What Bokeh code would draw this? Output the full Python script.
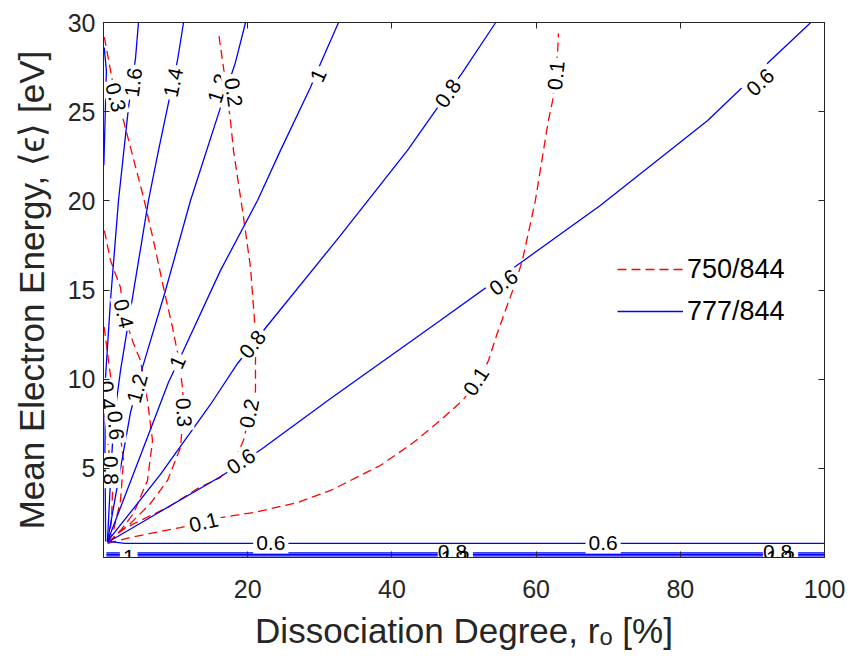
from bokeh.plotting import figure
from bokeh.models import (ColumnDataSource, FixedTicker, LinearAxis, Legend,
                          LegendItem, Range1d)
from bokeh.embed import file_html
from bokeh.resources import INLINE
from bokeh.core.properties import value

# ---------------- axes ----------------
x_ticks = [20, 40, 60, 80, 100]
y_ticks = [5, 10, 15, 20, 25, 30]

# ---------------- 777/844 contours (blue, solid) ----------------
b777_06_x = [0.55, 7.9, 16.5, 22.05, 31.5, 46.7, 58.1, 68.9, 83.8, 92.5, 98.1]
b777_06_y = [0.84, 2.58, 4.6, 6.11, 8.92, 13.29, 16.6, 19.74, 24.5, 27.87, 30.0]
b777_08_x = [0.55, 7.9, 14.84, 18.59, 22.75, 32.87, 42.16, 45.77, 49.8, 54.4]
b777_08_y = [0.9, 4.66, 8.58, 10.88, 13.01, 18.06, 22.83, 24.9, 27.2, 30.0]
b777_10_x = [0.55, 5.13, 9.0, 10.96, 16.23, 21.36, 24.55, 28.7, 30.1, 32.6]
b777_10_y = [0.9, 5.72, 9.81, 11.5, 16.1, 20.02, 22.83, 26.36, 27.7, 30.0]
b777_12_x = [0.55, 3.74, 5.41, 8.6, 12.07, 16.23, 18.3, 19.7]
b777_12_y = [0.9, 8.13, 10.66, 14.97, 20.02, 25.24, 27.76, 30.0]
b777_14_x = [0.55, 0.97, 1.39, 2.36, 4.3, 6.24, 7.63, 8.88, 10.26, 11.1]
b777_14_y = [0.9, 4.32, 7.52, 10.49, 15.26, 20.02, 22.83, 25.24, 27.87, 30.0]
b777_16_x = [0.3, 0.2, 0.28, 0.97, 2.08, 3.47, 4.44, 4.85]
b777_16_y = [0.9, 6.0, 10.1, 14.41, 20.02, 25.24, 27.99, 30.0]
b777_18_x = [0.05, 0.25, 0.4, 0.1]
b777_18_y = [22.0, 25.0, 27.3, 28.6]
# low-energy branches (nearly horizontal)
b777_06_low_x = [0.55, 3.0, 100.0]
b777_06_low_y = [0.9, 0.79, 0.79]
b777_08_low_x = [0.4, 100.0]
b777_08_low_y = [0.26, 0.26]
b777_10_low_x = [0.4, 100.0]
b777_10_low_y = [0.17, 0.17]
b777_12_low_x = [0.4, 100.0]
b777_12_low_y = [0.09, 0.09]

# ---------------- 750/844 contours (red, dashed) ----------------
r750_01_x = [0.55, 3.74, 6.52, 10.68, 16.23, 20.8, 26.9, 31.5, 38.4, 43.0, 46.7,
             49.8, 52.0, 53.4, 54.6, 56.9, 58.1, 59.9, 61.7, 62.3, 63.0, 63.1]
r750_01_y = [0.79, 1.12, 1.35, 1.68, 2.24, 2.52, 3.08, 3.76, 5.16, 6.45, 7.68,
             8.81, 9.9, 11.05, 12.56, 15.14, 16.66, 20.02, 24.5, 25.63, 28.44, 29.39]
r750_02_x = [0.69, 2.36, 5.13, 8.88, 13.04, 16.23, 18.3, 19.4, 20.8, 21.08, 21.08,
             20.39, 19.42, 18.03, 17.61, 16.64, 15.95]
r750_02_y = [0.79, 1.51, 2.08, 2.8, 3.87, 4.49, 5.55, 6.56, 8.81, 9.37, 12.56,
             16.26, 19.07, 22.83, 24.5, 27.48, 29.44]
r750_03_x = [0.69, 1.39, 3.74, 6.52, 8.88, 10.68, 11.1, 10.96, 10.4, 9.57, 8.32,
             6.93, 5.55, 2.77, 1.66, 0.97, 0.07]
r750_03_y = [0.84, 1.12, 1.91, 3.03, 4.32, 6.17, 8.24, 9.53, 11.22, 12.9, 15.14,
             17.78, 20.19, 24.51, 25.8, 27.31, 29.28]
r750_04_x = [0.69, 2.36, 4.16, 6.1, 6.8, 6.1, 5.13, 4.16, 2.77, 2.36, 0.97, 0.07]
r750_04_y = [0.84, 1.51, 2.47, 4.32, 6.56, 8.81, 11.05, 12.0, 13.68, 15.14, 16.66, 18.45]
r750_05_x = [0.69, 1.39, 2.36, 2.77, 2.08, 1.25, 0.69, 0.07]
r750_05_y = [0.84, 1.51, 3.2, 5.44, 7.68, 9.37, 11.05, 13.01]
r750_06_x = [0.69, 1.11, 1.25, 0.83, 0.07]
r750_06_y = [0.84, 2.08, 3.76, 5.72, 8.24]

# ---------------- contour labels ----------------
label_text = ["0.6", "0.6", "0.6", "0.8", "0.8", "1", "1", "1.2", "1.2", "1.4", "1.6",
              "0.6", "0.6", "1.2", "1.2", "1",
              "0.1", "0.1", "0.1", "0.2", "0.2", "0.3", "0.3", "0.4",
              "0.4", "0.6", "0.8"]
label_x = [91.1, 55.5, 19.1, 47.8, 20.7, 29.8, 10.3, 4.7, 15.95, 9.7, 4.16,
           23.2, 69.3, 48.8, 93.9, 3.5,
           13.9, 51.7, 62.8, 20.25, 18.0, 11.1, 1.66, 2.77,
           0.45, 1.66, 0.97]
label_y = [26.64, 15.42, 5.38, 26.02, 11.95, 27.03, 10.94, 9.48, 26.3, 26.64, 26.64,
           0.79, 0.79, -0.05, -0.05, 0.05,
           1.96, 9.87, 27.03, 8.08, 26.08, 8.13, 25.8, 13.68,
           9.09, 7.4, 4.88]
label_angle = [43, 36, 34, 55, 52, 66, 66, 75, 72, 78, 82,
               0, 0, 0, 0, 0,
               14, 57, 84, 78, -82, -87, -75, -77,
               -85, -85, -88]
# labels of the 0.8 low branch, drawn over the overlapping 1.2 labels
over_text = ["0.8", "0.8"]
over_x = [48.4, 93.5]
over_y = [0.3, 0.3]

TXT = "#262626"
FONT = "Liberation Sans"

p = figure(width=856, height=666, x_range=Range1d(0, 100), y_range=Range1d(0, 30),
           output_backend="svg", toolbar_location=None,
           min_border_left=103, min_border_right=32, min_border_top=22,
           min_border_bottom=109)
p.background_fill_color = "white"
p.border_fill_color = "white"
p.grid.visible = False
p.outline_line_color = TXT
p.outline_line_width = 1

for ax in (p.xaxis[0], p.yaxis[0]):
    ax.major_tick_in = 6
    ax.major_tick_out = 0
    ax.minor_tick_line_color = None
    ax.axis_line_color = TXT
    ax.major_tick_line_color = TXT
    ax.major_label_text_font = FONT
    ax.major_label_text_font_size = "25px"
    ax.major_label_text_color = TXT
    ax.axis_label_text_font = FONT
    ax.axis_label_text_font_size = "35px"
    ax.axis_label_text_font_style = "normal"
    ax.axis_label_text_color = TXT

p.xaxis.ticker = FixedTicker(ticks=x_ticks)
p.yaxis.ticker = FixedTicker(ticks=y_ticks)
p.xaxis.major_label_standoff = 22
p.yaxis.major_label_standoff = 8
p.xaxis.axis_label = "Dissociation Degree, r\u2092 [%]"
p.yaxis.axis_label = "Mean Electron Energy, \u27e8\u03f5\u27e9 [eV]"
p.xaxis.axis_label_standoff = 10
p.yaxis.axis_label_standoff = 14

top_ax = LinearAxis(ticker=FixedTicker(ticks=x_ticks), major_label_text_color=None,
                    major_label_text_font_size="10px",
                    major_tick_in=6, major_tick_out=0, minor_tick_line_color=None,
                    axis_line_color=TXT, major_tick_line_color=TXT, major_label_standoff=0)
right_ax = LinearAxis(ticker=FixedTicker(ticks=y_ticks), major_label_text_color=None,
                      major_label_text_font_size="10px",
                      major_tick_in=6, major_tick_out=0, minor_tick_line_color=None,
                      axis_line_color=TXT, major_tick_line_color=TXT, major_label_standoff=0)
p.add_layout(top_ax, "above")
p.add_layout(right_ax, "right")

BLUE = "#0000FF"
RED = "#FF0000"
LW = 1.3

blue_lines = [
    (b777_06_x, b777_06_y), (b777_08_x, b777_08_y), (b777_10_x, b777_10_y),
    (b777_12_x, b777_12_y), (b777_14_x, b777_14_y), (b777_16_x, b777_16_y),
    (b777_18_x, b777_18_y), (b777_06_low_x, b777_06_low_y),
    (b777_08_low_x, b777_08_low_y), (b777_10_low_x, b777_10_low_y),
    (b777_12_low_x, b777_12_low_y),
]
red_lines = [
    (r750_01_x, r750_01_y), (r750_02_x, r750_02_y), (r750_03_x, r750_03_y),
    (r750_04_x, r750_04_y), (r750_05_x, r750_05_y), (r750_06_x, r750_06_y),
]

red_r = []
for xs, ys in red_lines:
    red_r.append(p.line(xs, ys, line_color=RED, line_width=LW, line_dash="9 5"))
blue_r = []
for xs, ys in blue_lines:
    blue_r.append(p.line(xs, ys, line_color=BLUE, line_width=LW))

src = ColumnDataSource(dict(x=label_x, y=label_y, text=label_text, angle=label_angle))
p.text(x="x", y="y", text="text", angle="angle", angle_units="deg", source=src,
       text_font=value(FONT), text_font_size="21px", text_align="center",
       text_baseline="middle", text_color="black",
       background_fill_color="white", padding=3)
src2 = ColumnDataSource(dict(x=over_x, y=over_y, text=over_text))
p.text(x="x", y="y", text="text", source=src2,
       text_font=value(FONT), text_font_size="21px", text_align="center",
       text_baseline="middle", text_color="black")

legend = Legend(items=[LegendItem(label="750/844", renderers=[red_r[0]]),
                       LegendItem(label="777/844", renderers=[blue_r[0]])],
                location=(514, 230), glyph_width=66, glyph_height=32,
                label_text_font=FONT, label_text_font_size="27px",
                label_text_color="black", label_standoff=4, padding=0, margin=0,
                spacing=10, border_line_color=None, background_fill_alpha=0)
p.add_layout(legend)

open("out.html", "w").write(file_html(p, INLINE))
